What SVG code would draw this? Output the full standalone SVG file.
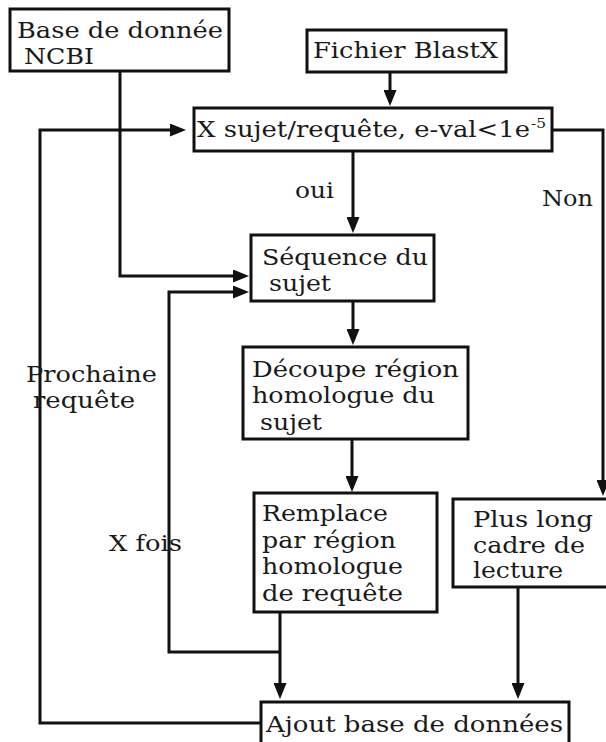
<svg xmlns="http://www.w3.org/2000/svg" width="606" height="742" viewBox="0 0 606 742">
<defs>
<style>
.box{fill:#fff;stroke:#111;stroke-width:3}
.t{font-family:"DejaVu Serif","Liberation Serif",serif;font-size:21.5px;fill:#1a1a1a}
.sup{font-family:"DejaVu Serif","Liberation Serif",serif;font-size:13px;fill:#1a1a1a}
.c{fill:none;stroke:#111;stroke-width:3}
.a{marker-end:url(#arr)}
</style>
<marker id="arr" markerUnits="userSpaceOnUse" markerWidth="16" markerHeight="13" refX="12" refY="6.5" orient="auto">
<path d="M0,0 L16,6.5 L0,13 Z" fill="#111"/>
</marker>
</defs>
<rect width="606" height="742" fill="#fff"/>
<g id="connectors">
<path class="c a" d="M390,72 V102"/>
<path class="c a" d="M353,151 V229"/>
<path class="c a" d="M353,301 V341"/>
<path class="c a" d="M352,439 V488"/>
<path class="c a" d="M280,612 V695"/>
<path class="c a" d="M518,587 V695"/>
<path class="c a" d="M552,130 H603 V492"/>
<path class="c a" d="M120,71 V276 H245"/>
<path class="c a" d="M280,652 H169 V292 H245"/>
<path class="c a" d="M261,723 H40 V130 H182"/>
</g>
<g id="base-ncbi">
<rect class="box" x="10" y="9" width="219" height="62"/>
<g transform="scale(1.2,1)">
<text class="t" x="14.17" y="38" textLength="171.67" lengthAdjust="spacingAndGlyphs">Base de donnée</text>
<text class="t" x="20" y="64" textLength="58.33" lengthAdjust="spacingAndGlyphs">NCBI</text>
</g>
</g>
<g id="fichier-blastx">
<rect class="box" x="307" y="30" width="199" height="42"/>
<g transform="scale(1.2,1)">
<text class="t" x="260.83" y="58" textLength="154.17" lengthAdjust="spacingAndGlyphs">Fichier BlastX</text>
</g>
</g>
<g id="x-sujet">
<rect class="box" x="194" y="108" width="358" height="43"/>
<g transform="scale(1.2,1)">
<text class="t" x="164.17" y="137" textLength="277.5" lengthAdjust="spacingAndGlyphs">X sujet/requête, e-val&lt;1e</text>
<text class="sup" x="442.5" y="128" textLength="12.5" lengthAdjust="spacingAndGlyphs">-5</text>
</g>
</g>
<g id="sequence-sujet">
<rect class="box" x="251" y="235" width="183" height="66"/>
<g transform="scale(1.2,1)">
<text class="t" x="218.33" y="265" textLength="138.33" lengthAdjust="spacingAndGlyphs">Séquence du</text>
<text class="t" x="224.17" y="291" textLength="51.67" lengthAdjust="spacingAndGlyphs">sujet</text>
</g>
</g>
<g id="decoupe">
<rect class="box" x="243" y="347" width="225" height="92"/>
<g transform="scale(1.2,1)">
<text class="t" x="210" y="377" textLength="172.5" lengthAdjust="spacingAndGlyphs">Découpe région</text>
<text class="t" x="210" y="403" textLength="152.5" lengthAdjust="spacingAndGlyphs">homologue du</text>
<text class="t" x="216.67" y="430" textLength="51.67" lengthAdjust="spacingAndGlyphs">sujet</text>
</g>
</g>
<g id="remplace">
<rect class="box" x="254" y="493" width="183" height="119"/>
<g transform="scale(1.2,1)">
<text class="t" x="218.33" y="521" textLength="105" lengthAdjust="spacingAndGlyphs">Remplace</text>
<text class="t" x="218.33" y="548" textLength="111.67" lengthAdjust="spacingAndGlyphs">par région</text>
<text class="t" x="218.33" y="574" textLength="117.5" lengthAdjust="spacingAndGlyphs">homologue</text>
<text class="t" x="218.33" y="601" textLength="117.5" lengthAdjust="spacingAndGlyphs">de requête</text>
</g>
</g>
<g id="plus-long">
<rect class="box" x="453" y="499" width="165" height="88"/>
<g transform="scale(1.2,1)">
<text class="t" x="394.17" y="527" textLength="100" lengthAdjust="spacingAndGlyphs">Plus long</text>
<text class="t" x="394.17" y="553" textLength="93.33" lengthAdjust="spacingAndGlyphs">cadre de</text>
<text class="t" x="394.17" y="578" textLength="75" lengthAdjust="spacingAndGlyphs">lecture</text>
</g>
</g>
<g id="ajout">
<rect class="box" x="261" y="702" width="308" height="52"/>
<g transform="scale(1.2,1)">
<text class="t" x="221.67" y="732" textLength="247.5" lengthAdjust="spacingAndGlyphs">Ajout base de données</text>
</g>
</g>
<g id="labels" transform="scale(1.2,1)">
<text class="t" x="245.83" y="198" textLength="32.5" lengthAdjust="spacingAndGlyphs">oui</text>
<text class="t" x="451.67" y="206" textLength="42.5" lengthAdjust="spacingAndGlyphs">Non</text>
<text class="t" x="21.67" y="382" textLength="109.17" lengthAdjust="spacingAndGlyphs">Prochaine</text>
<text class="t" x="27.5" y="408" textLength="85" lengthAdjust="spacingAndGlyphs">requête</text>
<text class="t" x="90.83" y="551" textLength="60.83" lengthAdjust="spacingAndGlyphs">X fois</text>
</g>
</svg>
